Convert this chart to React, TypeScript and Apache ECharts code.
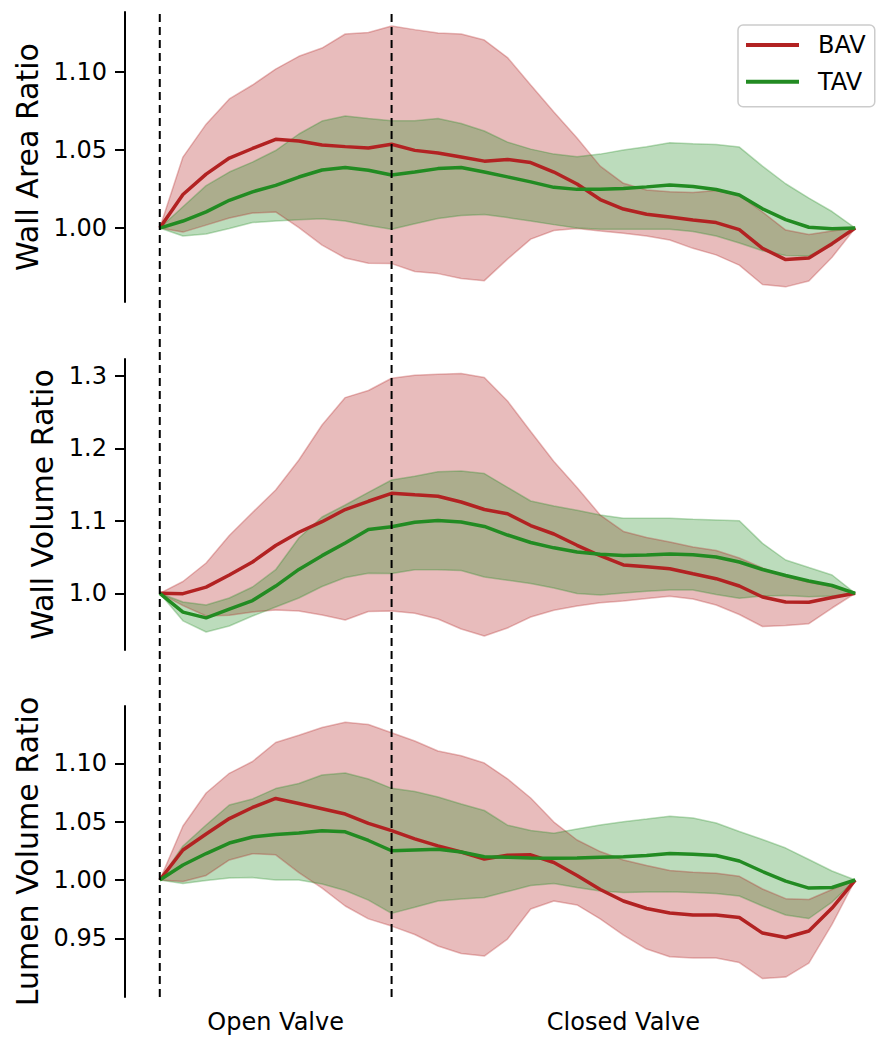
import React, { useEffect, useRef } from "react";
import * as echarts from "echarts";

// Cardiac-phase sample index (0 = valve opening, 10 = valve closing, 30 = end)
const phaseSteps = [0, 1, 2, 3, 4, 5, 6, 7, 8, 9, 10, 11, 12, 13, 14, 15, 16, 17, 18, 19, 20, 21, 22, 23, 24, 25, 26, 27, 28, 29, 30];
const valveMarks = [0, 10];
const phaseLabelPositions = [5, 20];
const phaseLabels = ["Open Valve", "Closed Valve"];
const groupNames = ["BAV", "TAV"];

// Wall Area Ratio
const waBavMean = [1.0, 1.0215, 1.0346, 1.0449, 1.051, 1.0569, 1.0558, 1.0532, 1.0522, 1.0513, 1.0537, 1.0498, 1.0481, 1.0455, 1.0429, 1.044, 1.042, 1.0359, 1.0282, 1.0183, 1.0122, 1.0088, 1.0071, 1.0051, 1.0035, 0.999, 0.987, 0.9798, 0.9808, 0.99, 1.0];
const waBavHi = [1.0, 1.0455, 1.0666, 1.0828, 1.0917, 1.1019, 1.1101, 1.1154, 1.1244, 1.1253, 1.1295, 1.1272, 1.125, 1.1244, 1.1205, 1.1093, 1.0917, 1.0744, 1.0577, 1.0397, 1.0287, 1.0244, 1.0232, 1.0228, 1.024, 1.021, 1.0103, 0.9987, 0.9958, 0.9981, 1.0];
const waBavLo = [1.0, 0.9974, 1.0019, 1.0064, 1.0096, 1.0103, 1.0003, 0.9891, 0.9808, 0.9774, 0.9772, 0.9721, 0.9708, 0.9676, 0.9663, 0.9801, 0.9929, 0.9984, 0.9997, 0.9981, 0.9966, 0.9949, 0.9923, 0.987, 0.9828, 0.9762, 0.9638, 0.9623, 0.9661, 0.9813, 1.0];
const waTavMean = [1.0, 1.0045, 1.0104, 1.0178, 1.0232, 1.0274, 1.0327, 1.0372, 1.0388, 1.037, 1.034, 1.0359, 1.0381, 1.0388, 1.0359, 1.0328, 1.0296, 1.0261, 1.0248, 1.0248, 1.0253, 1.0264, 1.0276, 1.0267, 1.0247, 1.0212, 1.0123, 1.0054, 1.0005, 0.9995, 1.0];
const waTavHi = [1.0, 1.0137, 1.0272, 1.0359, 1.0423, 1.0497, 1.0603, 1.0686, 1.0718, 1.0702, 1.0688, 1.0688, 1.0702, 1.067, 1.0622, 1.0551, 1.0506, 1.0474, 1.0457, 1.0474, 1.05, 1.0521, 1.0547, 1.054, 1.0535, 1.0519, 1.0397, 1.0284, 1.0192, 1.0106, 1.0];
const waTavLo = [1.0, 0.9949, 0.9962, 0.9997, 1.0035, 1.0045, 1.0054, 1.0059, 1.0045, 1.0017, 0.9992, 1.0028, 1.0061, 1.0081, 1.0087, 1.0067, 1.0045, 1.0022, 1.0, 0.9992, 0.9992, 0.9992, 0.9992, 0.9978, 0.9949, 0.9904, 0.9854, 0.9824, 0.9821, 0.989, 1.0];

// Wall Volume Ratio
const wvBavMean = [1.0, 0.9995, 1.0085, 1.0253, 1.0432, 1.066, 1.0843, 1.0989, 1.1157, 1.1271, 1.1381, 1.136, 1.134, 1.1261, 1.1157, 1.1099, 1.0936, 1.0819, 1.0663, 1.0519, 1.0391, 1.0366, 1.0338, 1.0269, 1.0202, 1.0101, 0.9949, 0.988, 0.9876, 0.9941, 1.0];
const wvBavHi = [1.0, 1.0163, 1.0419, 1.0798, 1.1116, 1.1427, 1.1841, 1.2325, 1.2703, 1.2801, 1.297, 1.3011, 1.3026, 1.3035, 1.2981, 1.2656, 1.2235, 1.182, 1.1461, 1.1081, 1.0854, 1.0771, 1.0709, 1.064, 1.0591, 1.0488, 1.0349, 1.0232, 1.0151, 1.0094, 1.0];
const wvBavLo = [1.0, 0.983, 0.9686, 0.9696, 0.9742, 0.9769, 0.9756, 0.97, 0.9631, 0.9749, 0.9756, 0.9724, 0.9645, 0.9507, 0.941, 0.9521, 0.9673, 0.9767, 0.9825, 0.9869, 0.9894, 0.9927, 0.9959, 0.9921, 0.9838, 0.9707, 0.9541, 0.9555, 0.9581, 0.9797, 1.0];
const wvTavMean = [1.0, 0.974, 0.966, 0.978, 0.99, 1.01, 1.033, 1.052, 1.0695, 1.0881, 1.092, 1.0981, 1.1006, 1.0985, 1.0923, 1.0805, 1.0702, 1.0628, 1.057, 1.0539, 1.0522, 1.0529, 1.0543, 1.0532, 1.0501, 1.0432, 1.0329, 1.0246, 1.017, 1.0108, 1.0];
const wvTavHi = [1.0, 0.988, 0.9838, 0.9935, 1.0087, 1.0326, 1.0764, 1.1054, 1.122, 1.1395, 1.1565, 1.1616, 1.1678, 1.1689, 1.1653, 1.1464, 1.1275, 1.1206, 1.1146, 1.1081, 1.1036, 1.1036, 1.1036, 1.1022, 1.1012, 1.1003, 1.069, 1.046, 1.0356, 1.0253, 1.0];
const wvTavLo = [1.0, 0.962, 0.9465, 0.9548, 0.9686, 0.9811, 0.9935, 1.0094, 1.0218, 1.0276, 1.0273, 1.0325, 1.0325, 1.0315, 1.0225, 1.0181, 1.0135, 1.0073, 0.9997, 0.9977, 1.0004, 1.0028, 1.0046, 1.0046, 0.9983, 0.9931, 0.9963, 0.997, 0.9952, 0.9963, 1.0];

// Lumen Volume Ratio
const lvBavMean = [1.0, 1.0257, 1.0395, 1.0527, 1.0622, 1.0699, 1.0656, 1.0611, 1.0566, 1.0486, 1.0423, 1.0353, 1.0293, 1.024, 1.018, 1.0212, 1.0216, 1.015, 1.0039, 0.9919, 0.982, 0.9756, 0.9717, 0.97, 0.97, 0.9678, 0.9545, 0.9507, 0.9563, 0.976, 1.0];
const lvBavHi = [1.0, 1.0463, 1.0746, 1.0915, 1.1016, 1.1179, 1.1241, 1.1307, 1.1353, 1.1334, 1.1263, 1.1192, 1.1106, 1.1065, 1.1003, 1.0868, 1.0703, 1.0497, 1.0343, 1.0244, 1.0172, 1.0124, 1.0081, 1.0066, 1.0057, 1.0032, 0.9923, 0.984, 0.9833, 0.9919, 1.0];
const lvBavLo = [1.0, 0.9987, 1.0039, 1.0172, 1.0226, 1.0216, 1.0064, 0.9931, 0.9777, 0.9667, 0.9605, 0.9533, 0.9434, 0.937, 0.9348, 0.9494, 0.9751, 0.982, 0.9786, 0.9666, 0.9528, 0.9408, 0.9342, 0.9331, 0.9331, 0.9292, 0.9155, 0.9168, 0.9288, 0.962, 1.0];
const lvTavMean = [1.0, 1.0129, 1.0227, 1.0317, 1.0369, 1.039, 1.0403, 1.0422, 1.0413, 1.0339, 1.0251, 1.0257, 1.0263, 1.024, 1.02, 1.0195, 1.0189, 1.0186, 1.0189, 1.0195, 1.02, 1.021, 1.0227, 1.022, 1.021, 1.0163, 1.0073, 0.9991, 0.9931, 0.9936, 1.0];
const lvTavHi = [1.0, 1.0292, 1.0472, 1.0643, 1.0695, 1.0784, 1.0828, 1.0901, 1.0918, 1.0866, 1.0786, 1.0759, 1.0712, 1.0652, 1.0596, 1.047, 1.0425, 1.0401, 1.0437, 1.0472, 1.05, 1.0523, 1.0547, 1.0532, 1.0489, 1.0416, 1.0347, 1.0274, 1.0176, 1.0077, 1.0];
const lvTavLo = [1.0, 0.997, 0.9996, 1.0017, 1.0021, 1.0, 1.0, 0.9966, 0.991, 0.9828, 0.9714, 0.9766, 0.982, 0.9837, 0.985, 0.9901, 0.9953, 0.997, 0.9936, 0.9906, 0.9893, 0.9897, 0.99, 0.9893, 0.9884, 0.9863, 0.9777, 0.97, 0.967, 0.9811, 1.0];

// Y tick labels
const waTicks = [1.0, 1.05, 1.1];
const wvTicks = [1.0, 1.1, 1.2, 1.3];
const lvTicks = [0.95, 1.0, 1.05, 1.1];

const FONT = "DejaVu Sans";
const COLORS: Record<string, string> = { BAV: "#b22222", TAV: "#228b22" };
const FILLS: Record<string, string> = { BAV: "rgba(178,34,34,0.3)", TAV: "rgba(34,139,34,0.3)" };
const EDGES: Record<string, string> = { BAV: "rgba(178,34,34,0.3)", TAV: "rgba(34,139,34,0.3)" };

const panels = [
  { title: "Wall Area Ratio", min: 0.9526, max: 1.1385, ticks: waTicks, dec: 2, gap: 83, top: 12, height: 290,
    BAV: { mean: waBavMean, lo: waBavLo, hi: waBavHi }, TAV: { mean: waTavMean, lo: waTavLo, hi: waTavHi } },
  { title: "Wall Volume Ratio", min: 0.9217, max: 1.3236, ticks: wvTicks, dec: 1, gap: 68, top: 359, height: 291,
    BAV: { mean: wvBavMean, lo: wvBavLo, hi: wvBavHi }, TAV: { mean: wvTavMean, lo: wvTavLo, hi: wvTavHi } },
  { title: "Lumen Volume Ratio", min: 0.8997, max: 1.1492, ticks: lvTicks, dec: 2, gap: 83, top: 706, height: 291,
    BAV: { mean: lvBavMean, lo: lvBavLo, hi: lvBavHi }, TAV: { mean: lvTavMean, lo: lvTavLo, hi: lvTavHi } },
];

const X_MIN = -1.5;
const X_MAX = 31.5;

export default function App() {
  const ref = useRef<HTMLDivElement>(null);

  useEffect(() => {
    if (!ref.current) return;
    const chart = echarts.init(ref.current, null, { renderer: "svg" });

    const grids: any[] = [];
    const xAxes: any[] = [];
    const yAxes: any[] = [];
    const series: any[] = [];

    panels.forEach((p: any, k: number) => {
      grids.push({ left: 125, width: 765, top: p.top, height: p.height });
      const isLast = k === panels.length - 1;
      xAxes.push({
        type: "value", gridIndex: k, min: X_MIN, max: X_MAX,
        show: isLast,
        axisLine: { show: false, onZero: false }, axisTick: { show: false }, splitLine: { show: false },
        axisLabel: {
          show: isLast,
          customValues: phaseLabelPositions,
          formatter: (v: number) => phaseLabels[phaseLabelPositions.indexOf(v)] ?? "",
          fontSize: 24, fontFamily: FONT, color: "#000", margin: 13,
        },
      });
      yAxes.push({
        type: "value", gridIndex: k, min: p.min, max: p.max,
        name: p.title, nameLocation: "middle", nameGap: p.gap,
        nameTextStyle: { fontSize: 30, fontFamily: FONT, color: "#000" },
        axisLine: { show: true, onZero: false, lineStyle: { color: "#000", width: 2 } },
        axisTick: { show: true, length: 10, customValues: p.ticks, lineStyle: { color: "#000", width: 2 } },
        axisLabel: {
          customValues: p.ticks,
          formatter: (v: number) => v.toFixed(p.dec),
          fontSize: 24, fontFamily: FONT, color: "#000", margin: 18,
        },
        splitLine: { show: false },
      });

      // shaded ranges (filled polygons between lower and upper bound)
      groupNames.forEach((g) => {
        const d = p[g];
        series.push({
          type: "custom", name: `${g} range`, xAxisIndex: k, yAxisIndex: k, silent: true,
          data: phaseSteps.map((s, i) => [s, d.lo[i], d.hi[i]]),
          encode: { x: 0, y: [1, 2] },
          renderItem: (params: any, api: any) => {
            if (params.dataIndexInside !== 0) return null;
            const upper = phaseSteps.map((s, i) => api.coord([s, d.hi[i]]));
            const lower = phaseSteps.map((s, i) => api.coord([s, d.lo[i]])).reverse();
            return {
              type: "polygon",
              shape: { points: upper.concat(lower) },
              style: { fill: FILLS[g], stroke: "none" },
            };
          },
        });
        ["lo", "hi"].forEach((b) => {
          series.push({
            type: "line", name: `${g} ${b}`, xAxisIndex: k, yAxisIndex: k, silent: true,
            data: phaseSteps.map((s, i) => [s, d[b][i]]),
            symbol: "none",
            lineStyle: { color: EDGES[g], width: 1.5 },
          });
        });
      });
      groupNames.forEach((g) => {
        const d = p[g];
        series.push({
          type: "line", name: g, xAxisIndex: k, yAxisIndex: k, silent: true,
          data: phaseSteps.map((s, i) => [s, d.mean[i]]),
          symbol: "none",
          itemStyle: { color: COLORS[g] },
          lineStyle: { color: COLORS[g], width: 3.5 },
        });
      });
    });

    // overlay grid for the valve event lines spanning all panels
    const ov = panels.length;
    grids.push({ left: 125, width: 765, top: 14, height: 983 });
    xAxes.push({ type: "value", gridIndex: ov, min: X_MIN, max: X_MAX, show: false });
    yAxes.push({ type: "value", gridIndex: ov, min: 0, max: 1, show: false });
    valveMarks.forEach((m) => {
      series.push({
        type: "line", name: "valve", xAxisIndex: ov, yAxisIndex: ov,
        data: [[m, 0], [m, 1]], symbol: "none", silent: true,
        lineStyle: { color: "#000", width: 2, type: [8, 5] },
      });
    });

    chart.setOption({
      animation: false,
      backgroundColor: "#fff",
      textStyle: { fontFamily: FONT },
      grid: grids,
      xAxis: xAxes,
      yAxis: yAxes,
      legend: {
        data: groupNames, orient: "vertical", left: 738, top: 25,
        padding: [7, 9, 12, 8], itemGap: 10.7, itemWidth: 53, itemHeight: 4, icon: "rect",
        borderColor: "#cccccc", borderWidth: 1.5, borderRadius: 5,
        backgroundColor: "rgba(255,255,255,0.8)", selectedMode: false,
        textStyle: { fontSize: 24, fontFamily: FONT, color: "#000", padding: [0, 0, 0, 14], lineHeight: 26 },
      },
      series,
    });

    return () => chart.dispose();
  }, []);

  return <div ref={ref} style={{ position: "absolute", left: 0, top: 0, width: 891, height: 1050 }} />;
}
